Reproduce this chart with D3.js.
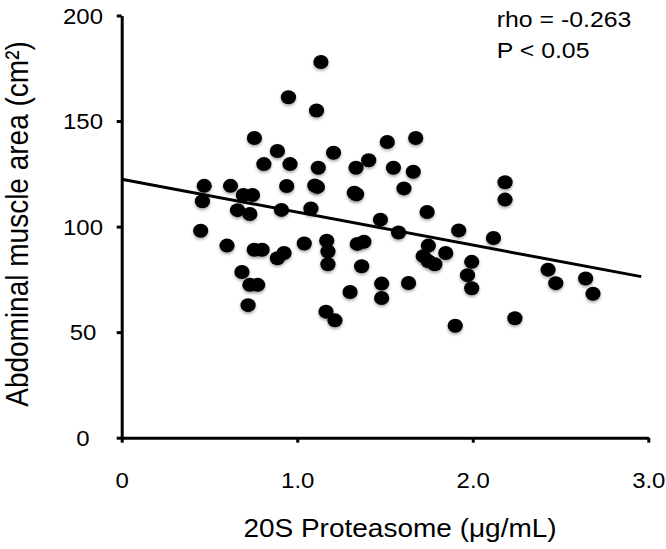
<!DOCTYPE html>
<html><head><meta charset="utf-8">
<script src="https://cdn.jsdelivr.net/npm/d3@7"></script>
<style>
html,body{margin:0;padding:0;background:#fff;}
svg{display:block;}
text{font-family:"Liberation Sans",Arial,Helvetica,sans-serif;fill:#000;}
</style>
</head><body>
<svg id="chart" width="666" height="549"></svg>
<script>
// ---- data ----
const xTicks = [0, 1, 2, 3];
const xTickLabels = ["0", "1.0", "2.0", "3.0"];
const yTicks = [0, 50, 100, 150, 200];
const yTickLabels = ["0", "50", "100", "150", "200"];

const proteasome = [
  0.45, 0.46, 0.47, 0.60, 0.62, 0.66, 0.685, 0.693, 0.72, 0.73,
  0.73, 0.745, 0.756, 0.755, 0.775, 0.80, 0.81, 0.887, 0.887, 0.91,
  0.925, 0.94, 0.95, 0.959, 1.04, 1.078, 1.10, 1.115, 1.11, 1.12,
  1.135, 1.168, 1.175, 1.175, 1.164, 1.215, 1.207, 1.301, 1.325, 1.338,
  1.335, 1.342, 1.380, 1.367, 1.407, 1.474, 1.481, 1.481, 1.513, 1.548,
  1.577, 1.608, 1.634, 1.661, 1.675, 1.740, 1.747, 1.718, 1.747, 1.784,
  1.846, 1.90, 1.92, 1.994, 1.970, 1.994, 2.118, 2.184, 2.184, 2.240,
  2.429, 2.473, 2.643, 2.685
];
const muscleArea = [
  98.0, 112.0, 119.3, 91.0, 119.3, 107.8, 78.5, 115.0, 62.8, 106.0,
  72.4, 115.0, 142.0, 89.0, 72.4, 89.0, 129.6, 135.8, 85.0, 107.9,
  87.5, 119.2, 161.3, 129.6, 92.0, 108.6, 119.5, 118.8, 155.0, 127.9,
  178.0, 93.3, 88.2, 82.2, 59.7, 55.6, 135.0, 69.0, 116.0, 115.3,
  127.9, 91.8, 92.8, 81.2, 131.4, 103.3, 73.0, 66.2, 140.1, 127.9,
  97.2, 118.1, 73.3, 126.0, 142.0, 106.9, 91.0, 86.0, 83.6, 82.2,
  87.5, 53.0, 98.2, 83.3, 77.0, 70.8, 94.6, 121.0, 112.8, 56.6,
  79.6, 73.2, 75.4, 68.2
];
const trendX = [0, 2.96];
const trendY = [122.4, 76.3];
const annotations = ["rho = -0.263", "P < 0.05"];

// ---- layout ----
const SX = 1.12; // horizontal stretch of the original figure
const svg = d3.select("#chart");
const x = d3.scaleLinear().domain([0, 3]).range([121.7, 648.3]);
const y = d3.scaleLinear().domain([0, 200]).range([437.7, 15.5]);

const defs = svg.append("defs");
const f = defs.append("filter").attr("id", "sh").attr("x", "-50%").attr("y", "-50%").attr("width", "200%").attr("height", "200%");
f.append("feDropShadow").attr("dx", 0).attr("dy", 1.8).attr("stdDeviation", 1.4)
  .attr("flood-color", "#000").attr("flood-opacity", 0.35);

// axes
const xAxis = d3.axisBottom(x).tickValues(xTicks).tickSize(5).tickSizeOuter(0)
  .tickFormat((d, i) => xTickLabels[i]);
const gx = svg.append("g").attr("transform", `translate(0,${y(0)})`).call(xAxis);
gx.select(".domain").attr("stroke", "#000").attr("stroke-width", 3);
gx.selectAll(".tick line").attr("stroke", "#000").attr("stroke-width", 3);
gx.selectAll(".tick text")
  .attr("y", 50.3).attr("dy", 0)
  .attr("font-size", "21.4px")
  .attr("font-family", "'Liberation Sans',Arial,Helvetica,sans-serif")
  .attr("fill", "#000")
  .attr("transform", `scale(${SX},1)`);

const yAxis = d3.axisLeft(y).tickValues(yTicks).tickSize(5).tickSizeOuter(0)
  .tickFormat((d, i) => yTickLabels[i]);
const gy = svg.append("g").attr("transform", `translate(${x(0)},0)`).call(yAxis);
gy.select(".domain").attr("stroke", "#000").attr("stroke-width", 3);
gy.selectAll(".tick line").attr("stroke", "#000").attr("stroke-width", 3);
gy.selectAll(".tick text")
  .attr("x", -38.7 / SX).attr("dy", "0.36em")
  .attr("text-anchor", "middle")
  .attr("font-size", "21.4px")
  .attr("font-family", "'Liberation Sans',Arial,Helvetica,sans-serif")
  .attr("fill", "#000")
  .attr("transform", `scale(${SX},1)`);

// trend line
const line = d3.line().x(d => x(d[0])).y(d => y(d[1]));
svg.append("path")
  .datum(trendX.map((v, i) => [v, trendY[i]]))
  .attr("d", line)
  .attr("fill", "none").attr("stroke", "#000").attr("stroke-width", 3);

// points
svg.append("g").selectAll("ellipse")
  .data(proteasome.map((v, i) => [v, muscleArea[i]]))
  .join("ellipse")
  .attr("cx", d => x(d[0])).attr("cy", d => y(d[1]))
  .attr("rx", 7.6).attr("ry", 7.0)
  .attr("fill", "#000")
  .attr("filter", "url(#sh)");

// annotations
annotations.forEach((t, i) => {
  svg.append("text")
    .attr("transform", `translate(496.7,${26.7 + i * 31.6}) scale(${SX},1)`)
    .attr("font-size", "22.2px")
    .text(t);
});

// axis titles
svg.append("text")
  .attr("transform", `translate(400,537.3) scale(${SX},1)`)
  .attr("text-anchor", "middle")
  .attr("font-size", "25px")
  .text("20S Proteasome (\u03bcg/mL)");

svg.append("text")
  .attr("transform", `translate(28,224) scale(${SX},1) rotate(-90)`)
  .attr("text-anchor", "middle")
  .attr("font-size", "28px")
  .text("Abdominal muscle area (cm\u00b2)");
</script>
</body></html>
